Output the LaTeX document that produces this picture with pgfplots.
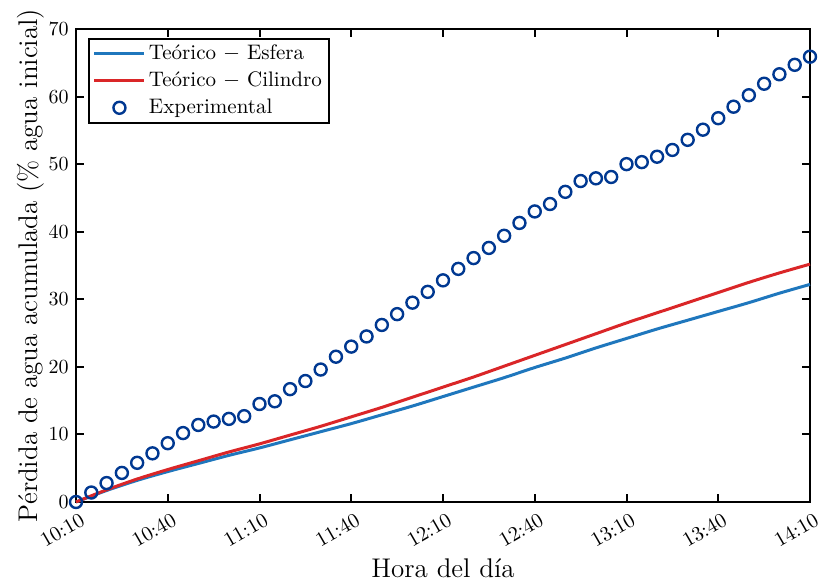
\documentclass[border=0pt]{standalone}
\usepackage{fontspec}
\usepackage{pgfplots}
\pgfplotsset{compat=1.18}
\definecolor{cEsf}{RGB}{31,119,189}
\definecolor{cCil}{RGB}{218,38,40}
\definecolor{cExp}{RGB}{0,56,145}
\pgfplotsset{
  lineleg/.style={legend image code/.code={\draw[##1] (0pt,0pt) -- (25pt,0pt);}},
  markleg/.style={legend image code/.code={\draw[##1] plot coordinates {(12.5pt,0pt)};}},
}
\begin{document}
\begin{tikzpicture}
\begin{axis}[
  width=367pt, height=236.5pt, scale only axis,
  xmin=0, xmax=240, ymin=0, ymax=70,
  xtick={0,30,...,240},
  xticklabels={10:10,10:40,11:10,11:40,12:10,12:40,13:10,13:40,14:10},
  ytick={0,10,...,70},
  tick align=inside, major tick length=4pt,
  xtick pos=both, ytick pos=both,
  axis line style={line width=1.2pt},
  every tick/.style={black, line width=1pt},
  tick label style={font=\fontsize{10.3}{12}\selectfont},
  xticklabel style={xshift=3.5pt, yshift=-8pt, rotate=30, anchor=east, inner sep=0pt},
  yticklabel style={inner sep=0pt, xshift=-3.5pt, anchor=east},
  xlabel={Hora del día},
  ylabel={Pérdida de agua acumulada (\% agua inicial)},
  label style={font=\fontsize{13.5}{16}\selectfont},
  xlabel style={at={(axis description cs:0.5,-0.1406)}, anchor=center},
  ylabel style={at={(axis description cs:-0.0613,0.5)}, anchor=center},
  clip=false,
  legend style={at={(axis description cs:0.0163,0.981)}, anchor=north west, draw=black, line width=1pt,
    font=\fontsize{10.5}{12}\selectfont, row sep=1.6pt, inner xsep=2pt, inner ysep=1.5pt,
    nodes={inner sep=1.5pt}},
  legend cell align=left,
]
\addplot[cEsf, line width=1.5pt, smooth, lineleg] coordinates {
(0,0) (10,1.7) (20,3.2) (30,4.5) (40,5.7) (50,6.9) (60,8.0) (70,9.2) (80,10.4) (90,11.6)
(100,12.9) (110,14.2) (120,15.6) (130,17.0) (140,18.4) (150,19.9) (160,21.3) (170,22.8)
(180,24.2) (190,25.6) (200,26.9) (210,28.2) (220,29.5) (230,30.9) (240,32.2)};
\addlegendentry{Teórico $-$ Esfera}
\addplot[cCil, line width=1.5pt, smooth, lineleg] coordinates {
(0,0) (10,1.8) (20,3.4) (30,4.8) (40,6.1) (50,7.4) (60,8.6) (70,9.9) (80,11.2) (90,12.6)
(100,14.0) (110,15.5) (120,17.0) (130,18.5) (140,20.1) (150,21.7) (160,23.3) (170,24.9)
(180,26.5) (190,28.0) (200,29.5) (210,31.0) (220,32.5) (230,33.9) (240,35.2)};
\addlegendentry{Teórico $-$ Cilindro}
\addplot[only marks, mark=o, mark size=3pt, cExp, line width=1.2pt, markleg] coordinates {
(0,0) (5,1.4) (10,2.8) (15,4.3) (20,5.8) (25,7.2) (30,8.7) (35,10.2) (40,11.4) (45,11.9)
(50,12.3) (55,12.7) (60,14.5) (65,14.9) (70,16.7) (75,17.9) (80,19.6) (85,21.5) (90,23.0) (95,24.5)
(100,26.2) (105,27.8) (110,29.5) (115,31.1) (120,32.8) (125,34.5) (130,36.1) (135,37.6) (140,39.4) (145,41.3)
(150,43.0) (155,44.1) (160,45.9) (165,47.5) (170,47.9) (175,48.1) (180,50.0) (185,50.3) (190,51.1) (195,52.1)
(200,53.6) (205,55.1) (210,56.8) (215,58.5) (220,60.2) (225,61.9) (230,63.3) (235,64.7) (240,65.9)};
\addlegendentry{Experimental}
\end{axis}
\pgfresetboundingbox
\path (current axis.south west) ++(-38pt,-42pt) coordinate (bbA);
\path (current axis.north east) ++(5pt,14.5pt) coordinate (bbB);
\useasboundingbox (bbA) rectangle (bbB);
\end{tikzpicture}
\end{document}
